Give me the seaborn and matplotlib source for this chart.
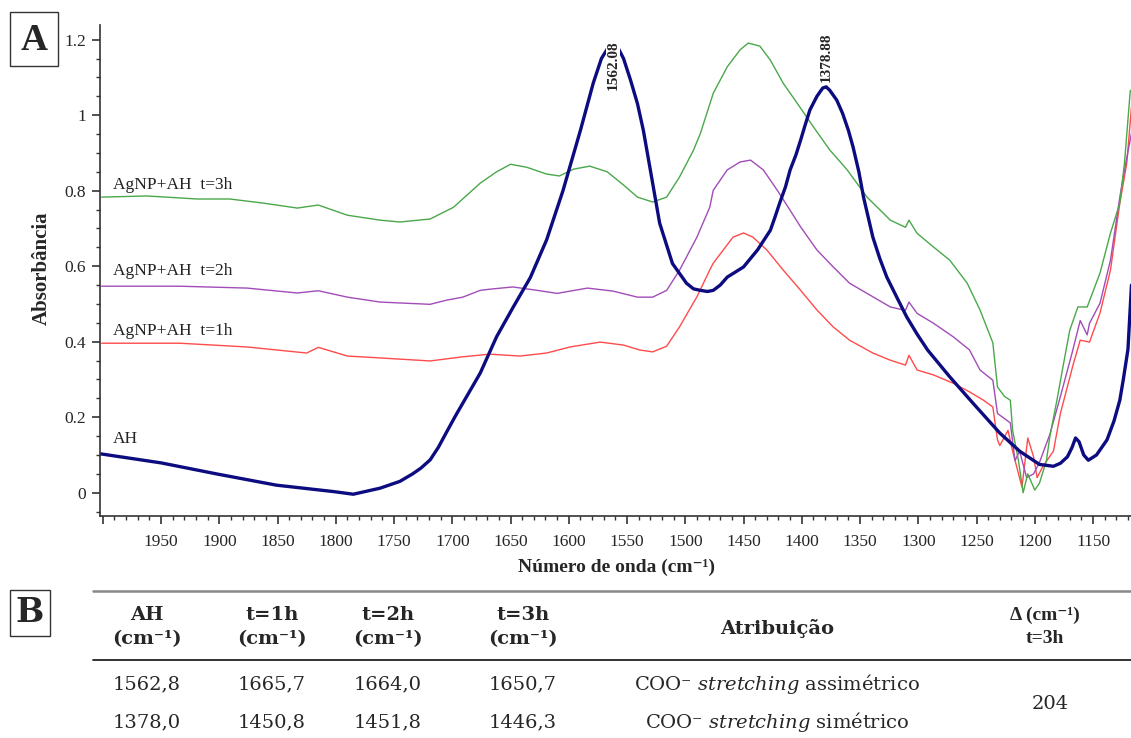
import numpy as np
import pandas as pd
import matplotlib.pyplot as plt
import seaborn as sns
from matplotlib.ticker import MultipleLocator, FuncFormatter
from matplotlib.patches import Rectangle
from matplotlib.lines import Line2D

ah_wn = [2002, 1950, 1901, 1851, 1802, 1785, 1762, 1745, 1734, 1727, 1719, 1712, 1705, 1697,
         1691, 1676, 1662, 1648, 1633, 1619, 1605, 1590, 1579, 1572, 1565, 1562, 1559, 1553,
         1547, 1541, 1536, 1530, 1522, 1511, 1499, 1493, 1487, 1481, 1476, 1470, 1464, 1450,
         1438, 1427, 1423, 1419, 1414, 1410, 1405, 1401, 1397, 1393, 1387, 1382, 1379, 1376,
         1370, 1365, 1360, 1356, 1351, 1347, 1343, 1339, 1333, 1327, 1318, 1310, 1301, 1292,
         1273, 1253, 1230, 1213, 1196, 1184, 1178, 1172, 1168, 1165, 1162, 1158, 1154, 1147,
         1138, 1132, 1127, 1124, 1120, 1117]
ah_abs = [0.103, 0.079, 0.049, 0.020, 0.003, -0.004, 0.012, 0.030, 0.050, 0.065, 0.087, 0.120,
          0.160, 0.205, 0.237, 0.317, 0.413, 0.490, 0.570, 0.670, 0.800, 0.960, 1.085, 1.150,
          1.185, 1.195, 1.186, 1.150, 1.093, 1.030, 0.960, 0.855, 0.714, 0.607, 0.555, 0.540,
          0.536, 0.533, 0.536, 0.550, 0.571, 0.598, 0.643, 0.695, 0.730, 0.767, 0.810, 0.855,
          0.895, 0.934, 0.975, 1.014, 1.050, 1.072, 1.075, 1.066, 1.040, 1.005, 0.960, 0.916,
          0.850, 0.783, 0.730, 0.677, 0.620, 0.571, 0.515, 0.466, 0.420, 0.378, 0.307, 0.237,
          0.158, 0.110, 0.075, 0.070, 0.078, 0.095, 0.120, 0.145, 0.135, 0.100, 0.086, 0.100,
          0.140, 0.190, 0.245, 0.300, 0.380, 0.550]

t3_wn = [2001, 1962, 1919, 1891, 1862, 1833, 1815, 1790, 1762, 1745, 1719, 1699, 1676, 1662,
         1650, 1636, 1619, 1608, 1596, 1582, 1567, 1553, 1541, 1528, 1516, 1505, 1493, 1487,
         1476, 1464, 1453, 1446, 1436, 1427, 1416, 1404, 1390, 1376, 1361, 1344, 1324, 1311,
         1308, 1301, 1287, 1273, 1258, 1247, 1236, 1232, 1226, 1221, 1219, 1214, 1210, 1206,
         1200, 1196, 1190, 1187, 1181, 1176, 1170, 1163, 1155, 1144, 1135, 1127, 1123, 1118]
t3_abs = [0.783, 0.786, 0.778, 0.778, 0.767, 0.754, 0.762, 0.735, 0.722, 0.717, 0.725, 0.756,
          0.820, 0.850, 0.870, 0.862, 0.844, 0.839, 0.857, 0.865, 0.850, 0.815, 0.783, 0.770,
          0.783, 0.836, 0.907, 0.952, 1.058, 1.128, 1.173, 1.191, 1.183, 1.146, 1.085, 1.032,
          0.969, 0.908, 0.855, 0.783, 0.722, 0.703, 0.722, 0.687, 0.651, 0.616, 0.555, 0.484,
          0.397, 0.280, 0.255, 0.245, 0.165, 0.085, 0.000, 0.050, 0.007, 0.025, 0.085, 0.150,
          0.245, 0.330, 0.430, 0.492, 0.492, 0.582, 0.688, 0.767, 0.873, 1.066]

t2_wn = [2001, 1934, 1876, 1833, 1815, 1790, 1762, 1719, 1705, 1691, 1676, 1668, 1648, 1627,
         1610, 1584, 1562, 1541, 1528, 1516, 1505, 1490, 1479, 1476, 1464, 1453, 1444, 1433,
         1421, 1410, 1401, 1387, 1373, 1359, 1339, 1324, 1311, 1308, 1301, 1287, 1270, 1256,
         1247, 1236, 1232, 1221, 1217, 1213, 1207, 1201, 1196, 1187, 1178, 1168, 1161, 1155,
         1153, 1144, 1135, 1127, 1123, 1117]
t2_abs = [0.547, 0.547, 0.542, 0.529, 0.535, 0.518, 0.505, 0.499, 0.510, 0.518, 0.536, 0.539,
          0.545, 0.536, 0.528, 0.542, 0.534, 0.518, 0.518, 0.536, 0.589, 0.677, 0.756, 0.801,
          0.855, 0.876, 0.881, 0.855, 0.801, 0.748, 0.704, 0.643, 0.598, 0.555, 0.519, 0.492,
          0.483, 0.505, 0.475, 0.449, 0.413, 0.378, 0.325, 0.298, 0.210, 0.185, 0.085, 0.110,
          0.040, 0.050, 0.080, 0.155, 0.255, 0.370, 0.456, 0.418, 0.449, 0.502, 0.616, 0.783,
          0.855, 0.952]

t1_wn = [2001, 1934, 1876, 1825, 1815, 1790, 1762, 1719, 1691, 1668, 1642, 1619, 1599, 1573,
         1553, 1539, 1528, 1516, 1505, 1490, 1479, 1476, 1459, 1450, 1442, 1430, 1416, 1401,
         1387, 1373, 1359, 1339, 1324, 1311, 1308, 1301, 1287, 1270, 1256, 1244, 1236, 1232,
         1230, 1223, 1219, 1211, 1206, 1201, 1198, 1193, 1184, 1178, 1167, 1161, 1153, 1144,
         1135, 1127, 1121, 1117]
t1_abs = [0.396, 0.396, 0.386, 0.370, 0.385, 0.362, 0.357, 0.349, 0.360, 0.367, 0.362, 0.370,
          0.386, 0.399, 0.391, 0.378, 0.373, 0.388, 0.439, 0.519, 0.590, 0.608, 0.677, 0.688,
          0.677, 0.643, 0.590, 0.536, 0.484, 0.439, 0.404, 0.370, 0.351, 0.338, 0.364, 0.325,
          0.312, 0.290, 0.267, 0.245, 0.227, 0.140, 0.125, 0.165, 0.110, 0.015, 0.145, 0.095,
          0.040, 0.070, 0.110, 0.210, 0.340, 0.404, 0.399, 0.476, 0.590, 0.767, 0.873, 1.022]

series = ["AgNP+AH  t=1h", "AgNP+AH  t=2h", "AgNP+AH  t=3h", "AH"]
cores = {"AgNP+AH  t=1h": "#ff4b4b", "AgNP+AH  t=2h": "#a24cb8",
         "AgNP+AH  t=3h": "#4aa84a", "AH": "#0c0c80"}
espessura = {"AgNP+AH  t=1h": 1.0, "AgNP+AH  t=2h": 1.0, "AgNP+AH  t=3h": 1.0, "AH": 2.4}
pos_rotulo = {"AgNP+AH  t=1h": 0.428, "AgNP+AH  t=2h": 0.587, "AgNP+AH  t=3h": 0.815, "AH": 0.142}

picos_wn = [1562.08, 1378.88]
picos_txt = ["1562.08", "1378.88"]

# tabela B
cabecalho = ["AH\n(cm⁻¹)", "t=1h\n(cm⁻¹)", "t=2h\n(cm⁻¹)", "t=3h\n(cm⁻¹)"]
linha_1 = ["1562,8", "1665,7", "1664,0", "1650,7"]
linha_2 = ["1378,0", "1450,8", "1451,8", "1446,3"]
atribuicao = ["COO⁻ $\\mathit{stretching}$ assimétrico", "COO⁻ $\\mathit{stretching}$ simétrico"]
delta_txt = "204"

dados = pd.concat([
    pd.DataFrame({"numero_onda": t1_wn, "absorbancia": t1_abs, "serie": series[0]}),
    pd.DataFrame({"numero_onda": t2_wn, "absorbancia": t2_abs, "serie": series[1]}),
    pd.DataFrame({"numero_onda": t3_wn, "absorbancia": t3_abs, "serie": series[2]}),
    pd.DataFrame({"numero_onda": ah_wn, "absorbancia": ah_abs, "serie": series[3]}),
])

# ---------------- figura ----------------
sns.set_style("ticks")
plt.rcParams['font.family'] = ['Liberation Serif', 'DejaVu Serif']
plt.rcParams['mathtext.fontset'] = 'custom'
plt.rcParams['mathtext.rm'] = 'DejaVu Serif'
plt.rcParams['mathtext.it'] = 'DejaVu Serif:italic'
plt.rcParams['mathtext.bf'] = 'DejaVu Serif:bold'

W, H = 1131, 738
fig = plt.figure(figsize=(W / 100, H / 100), dpi=100)
ax = fig.add_axes([100 / W, 1 - 516 / H, (W - 100) / W, (516 - 25) / H])

for s in series:
    sns.lineplot(data=dados[dados["serie"] == s], x="numero_onda", y="absorbancia",
                 color=cores[s], linewidth=espessura[s], estimator=None, ax=ax, legend=False)
    ax.text(1991, pos_rotulo[s], s, fontsize=12.5, va="center", ha="left", color="#222222")

# rótulos dos picos do AH
ax.text(picos_wn[0], 1.199, picos_txt[0], rotation=90, ha="center", va="top", fontsize=11,
        fontweight="bold", bbox=dict(fc="white", ec="none", pad=0.3), zorder=5)
ax.text(picos_wn[1], 1.088, picos_txt[1], rotation=90, ha="center", va="bottom", fontsize=11,
        fontweight="bold", bbox=dict(fc="white", ec="none", pad=0.3), zorder=5)

ax.set_xlim(2002.4, 1117.4)
ax.set_ylim(-0.0617, 1.2389)
ax.xaxis.set_major_locator(MultipleLocator(50))
ax.xaxis.set_minor_locator(MultipleLocator(10))
ax.xaxis.set_major_formatter(FuncFormatter(lambda v, p: "" if v > 1990 else "%d" % v))
ax.yaxis.set_major_locator(MultipleLocator(0.2))
ax.yaxis.set_minor_locator(MultipleLocator(0.05))
ax.yaxis.set_major_formatter(FuncFormatter(lambda v, p: "%g" % round(v, 2)))
ax.tick_params(axis="both", which="major", length=6, width=1.2, labelsize=12.5, color="#333333")
ax.tick_params(axis="both", which="minor", length=3, width=1.0, color="#333333")
ax.tick_params(axis="x", which="major", pad=7)
ax.tick_params(axis="y", which="major", pad=4)
sns.despine(ax=ax)
for lado in ["left", "bottom"]:
    ax.spines[lado].set_linewidth(1.2)
    ax.spines[lado].set_color("#333333")

ax.set_xlabel("")
ax.set_ylabel("")
fig.text(42 / W, 1 - 268 / H, "Absorbância", rotation=90, ha="center", va="center",
         fontsize=15, fontweight="bold")
fig.text(617 / W, 1 - 567 / H, "Número de onda (cm⁻¹)", ha="center", va="center",
         fontsize=14, fontweight="bold")

# caixas A e B
fig.patches.append(Rectangle((10 / W, 1 - 66 / H), 48 / W, 54 / H, transform=fig.transFigure,
                             fill=False, ec="#333333", lw=1.0))
fig.text(34 / W, 1 - 40 / H, "A", ha="center", va="center", fontsize=27, fontweight="bold")
fig.patches.append(Rectangle((10 / W, 1 - 636 / H), 40 / W, 46 / H, transform=fig.transFigure,
                             fill=False, ec="#333333", lw=1.0))
fig.text(30 / W, 1 - 613 / H, "B", ha="center", va="center", fontsize=24, fontweight="bold",
         family="DejaVu Serif")

# tabela B
fig.lines.append(Line2D([93 / W, 1.0], [1 - 591 / H] * 2, transform=fig.transFigure,
                        color="#888888", lw=1.8))
fig.lines.append(Line2D([93 / W, 1.0], [1 - 660 / H] * 2, transform=fig.transFigure,
                        color="#222222", lw=1.3))
col_x = [147, 272, 388, 523]
for i, cx in enumerate(col_x):
    fig.text(cx / W, 1 - 627 / H, cabecalho[i], ha="center", va="center", fontsize=14,
             fontweight="bold", family="DejaVu Serif", linespacing=1.45)
    fig.text(cx / W, 1 - 684 / H, linha_1[i], ha="center", va="center", fontsize=14,
             family="DejaVu Serif")
    fig.text(cx / W, 1 - 722 / H, linha_2[i], ha="center", va="center", fontsize=14,
             family="DejaVu Serif")
fig.text(777 / W, 1 - 628 / H, "Atribuição", ha="center", va="center", fontsize=14,
         fontweight="bold", family="DejaVu Serif")
fig.text(777 / W, 1 - 684 / H, atribuicao[0], ha="center", va="center", fontsize=14,
         family="DejaVu Serif")
fig.text(777 / W, 1 - 722 / H, atribuicao[1], ha="center", va="center", fontsize=14,
         family="DejaVu Serif")
fig.text(1045 / W, 1 - 627 / H, "Δ (cm⁻¹)\nt=3h", ha="center", va="center", fontsize=14,
         fontweight="bold", linespacing=1.45)
fig.text(1050 / W, 1 - 704 / H, delta_txt, ha="center", va="center", fontsize=14,
         family="DejaVu Serif")

fig.savefig("out.png", dpi=100)
